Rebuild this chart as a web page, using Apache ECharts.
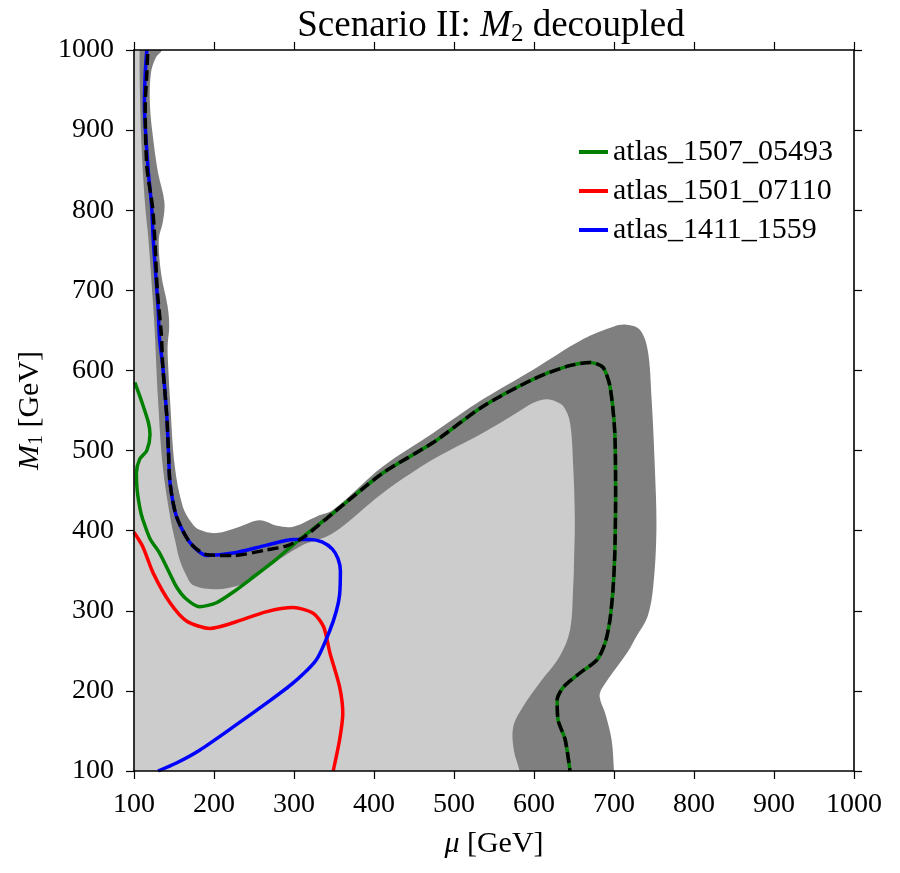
<!DOCTYPE html>
<html>
<head>
<meta charset="utf-8">
<script src="https://cdn.jsdelivr.net/npm/echarts@6/dist/echarts.min.js"></script>
<style>
    html, body { margin: 0; padding: 0; background: #fff; }
    #chart { width: 900px; height: 873px; }
</style>
</head>
<body>
<div id="chart"></div>
<script>
// 轴刻度
var axisMin = 100;
var axisMax = 1000;
var axisStep = 100;

// 暗灰色区域 (外边界), 角点放在绘图区外, 由 clip 裁掉
var bandOuter = [
    [80, 80], [80, 1020], [140, 1020], [135, 1000], [127, 990], [121, 970], [120, 930], [124, 889],
    [130, 847], [138, 810], [136, 785], [131, 764], [134, 720], [142, 680], [144, 655],
    [142, 630], [143, 600], [145, 564], [151, 480], [161, 430], [172, 410], [182, 401],
    [203, 397], [232, 405], [257, 413], [279, 406], [299, 405], [329, 418], [349, 426],
    [411, 480], [474, 522], [536, 564], [599, 601], [661, 639], [700, 655], [716, 657],
    [732, 651], [742, 626], [747, 564], [751, 480], [753, 400], [749, 330], [742, 293],
    [728, 268], [716, 247], [686, 205], [682, 193], [689, 172], [697, 139], [700, 100],
    [701, 80]
];

// 浅灰色区域 (内边界)
var bandInner = [
    [80, 80], [80, 1020], [107, 1020], [107, 1000], [107, 972], [109, 889], [114, 805], [118, 764],
    [124, 680], [126, 647], [130, 564], [136, 480], [145, 418], [152, 385], [157, 364],
    [165, 345], [174, 332], [203, 327], [232, 332], [245, 339], [307, 380], [349, 397],
    [411, 447], [474, 489], [536, 522], [578, 547], [600, 560], [616, 564], [628, 561],
    [637, 555], [645, 535], [649, 480], [651, 414], [650, 360], [649, 330], [645, 276],
    [632, 243], [607, 210], [586, 180], [574, 155], [575, 125], [582, 100], [584, 80]
];

var seriesNames = ['atlas_1507_05493', 'atlas_1501_07110', 'atlas_1411_1559'];

var greenLine = [
    [101, 585], [110, 560], [118, 535], [120, 520], [116, 500], [107, 489], [103, 472],
    [104, 450], [108, 425], [111, 414], [120, 390], [132, 372], [143, 350], [153, 330],
    [165, 315], [182, 305], [203, 310], [225, 324], [245, 339], [275, 362], [307, 389],
    [349, 422], [411, 472], [474, 510], [536, 555], [599, 589], [641, 605], [670, 610],
    [686, 604], [695, 580], [701, 522], [702, 439], [701, 372], [699, 330], [695, 289],
    [689, 260], [679, 239], [657, 222], [637, 205], [629, 189], [630, 164], [639, 139],
    [645, 100]
];

var redLine = [
    [100, 398], [111, 380], [124, 347], [145, 310], [166, 287], [195, 278], [224, 285],
    [266, 299], [299, 304], [324, 297], [337, 280], [345, 247], [357, 205], [361, 172],
    [357, 139], [349, 100]
];

var blueLine = [
    [116, 1000], [114, 970], [113, 930], [115, 889], [118, 847], [122, 805], [124, 764],
    [127, 722], [130, 680], [132, 639], [136, 605], [141, 543], [143, 501], [145, 460],
    [153, 418], [170, 385], [191, 369], [224, 372], [266, 382], [299, 389], [320, 389],
    [335, 386], [348, 377], [355, 365], [358, 350], [357, 320], [353, 300], [345, 276],
    [328, 239], [299, 210], [266, 185], [224, 155], [182, 126], [153, 110], [130, 100]
];

// 黑色虚线: 上半段沿蓝线, 之后与绿线重合
var dashedHead = [
    [117, 995], [116, 970], [114, 930], [116, 855], [123, 805], [126, 764], [129, 701],
    [134, 647], [136, 605], [141, 543], [143, 501], [145, 460], [153, 418], [170, 385],
    [191, 370], [224, 369], [266, 376], [291, 381], [311, 391]
];
var dashedLine = dashedHead.concat(greenLine.slice(21));

var serif = 'Liberation Serif';

function polygonSeries(points, color, z) {
    return {
        type: 'custom',
        z: z,
        silent: true,
        clip: true,
        data: [[500, 500]],
        renderItem: function (params, api) {
            return {
                type: 'polygon',
                shape: {
                    points: points.map(function (p) {
                        return api.coord(p);
                    }),
                    smooth: 0.35
                },
                style: {fill: color}
            };
        }
    };
}

function lineSeries(name, data, color, z, dash) {
    return {
        name: name,
        type: 'line',
        z: z,
        data: data,
        symbol: 'none',
        smooth: 0.25,
        silent: true,
        lineStyle: {color: color, width: 3.5, type: dash || 'solid'},
        itemStyle: {color: color}
    };
}

function makeAxis(type, position, showLabel) {
    return {
        type: 'value',
        position: position,
        min: axisMin,
        max: axisMax,
        interval: axisStep,
        z: 10,
        splitLine: {show: false},
        axisLine: {show: true, onZero: false, lineStyle: {color: '#000', width: 1.6}},
        axisTick: {show: true, inside: false, length: 8, lineStyle: {color: '#000', width: 1.2}},
        axisLabel: {
            show: showLabel,
            color: '#000',
            fontFamily: serif,
            fontSize: 28,
            margin: 20,
            formatter: function (v) {
                return String(v);
            }
        }
    };
}

var myChart = echarts.init(document.getElementById('chart'), null, {renderer: 'canvas'});

var xBottom = makeAxis('x', 'bottom', true);
xBottom.name = '{i|μ} [GeV]';
xBottom.nameLocation = 'middle';
xBottom.nameGap = 58;
xBottom.nameTextStyle = {
    color: '#000', fontFamily: serif, fontSize: 30,
    rich: {i: {fontFamily: serif, fontStyle: 'italic', fontSize: 30, color: '#000'}}
};
var yLeft = makeAxis('y', 'left', true);
yLeft.name = '{i|M}{s|1} [GeV]';
yLeft.nameLocation = 'middle';
yLeft.nameGap = 82;
yLeft.nameTextStyle = {
    color: '#000', fontFamily: serif, fontSize: 30,
    rich: {
        i: {fontFamily: serif, fontStyle: 'italic', fontSize: 30, color: '#000'},
        s: {fontFamily: serif, fontSize: 20, color: '#000', padding: [14, 0, 0, 0]}
    }
};

var option = {
    animation: false,
    backgroundColor: '#fff',
    title: {
        text: 'Scenario II: {i|M}{s|2} decoupled',
        left: 486,
        textAlign: 'center',
        top: 1,
        textStyle: {
            color: '#000', fontFamily: serif, fontSize: 37, fontWeight: 'normal',
            rich: {
                i: {fontFamily: serif, fontStyle: 'italic', fontSize: 37, color: '#000'},
                s: {fontFamily: serif, fontSize: 25, color: '#000', padding: [16, 0, 0, 0]}
            }
        }
    },
    legend: {
        data: seriesNames,
        orient: 'vertical',
        left: 574,
        top: 132,
        icon: 'rect',
        itemWidth: 29,
        itemHeight: 4,
        itemGap: 9,
        textStyle: {color: '#000', fontFamily: serif, fontSize: 30}
    },
    grid: {left: 134, right: 46, top: 50, bottom: 102},
    xAxis: [xBottom, makeAxis('x', 'top', false)],
    yAxis: [yLeft, makeAxis('y', 'right', false)],
    series: [
        polygonSeries(bandOuter, '#7f7f7f', 1),
        polygonSeries(bandInner, '#cccccc', 2),
        lineSeries(seriesNames[0], greenLine, '#008000', 3),
        lineSeries(seriesNames[1], redLine, '#ff0000', 3),
        lineSeries(seriesNames[2], blueLine, '#0000ff', 3),
        lineSeries('expected', dashedLine, '#000000', 4, [11, 5])
    ]
};
myChart.setOption(option, true);
</script>
</body>
</html>
